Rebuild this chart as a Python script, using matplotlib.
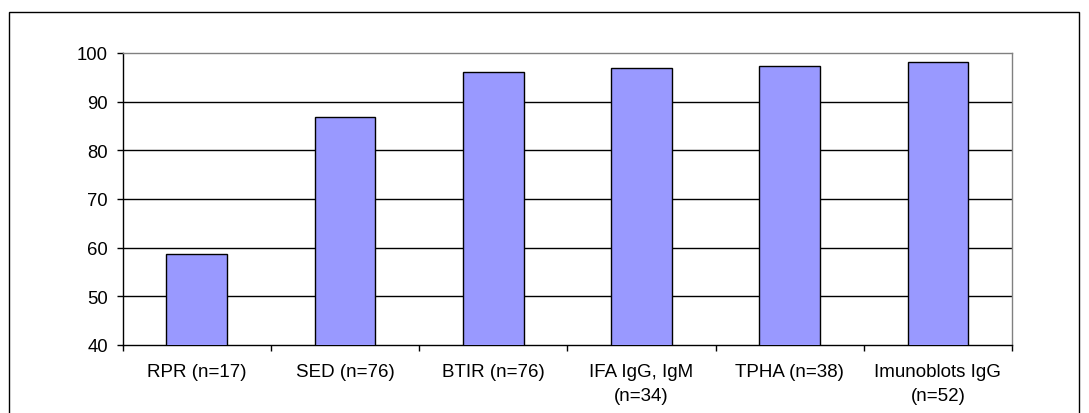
import numpy as np
import matplotlib
matplotlib.use("Agg")
import matplotlib.pyplot as plt
from matplotlib.patches import Rectangle

plt.rcParams['font.family'] = ['Liberation Sans', 'DejaVu Sans']

labels = ['RPR (n=17)', 'SED (n=76)', 'BTIR (n=76)', 'IFA IgG, IgM\n(n=34)',
          'TPHA (n=38)', 'Imunoblots IgG\n(n=52)']
values = [58.8, 86.9, 96.0, 96.9, 97.3, 98.2]
yticks = [40, 50, 60, 70, 80, 90, 100]

W, H = 1089, 414
fig = plt.figure(figsize=(W / 100, H / 100), dpi=100)
# outer chart border (bottom runs off the picture)
fig.patches.append(Rectangle((9 / W, -0.1), (1079 - 9) / W, (H - 13) / H + 0.1,
                             transform=fig.transFigure, fill=False,
                             edgecolor='black', linewidth=1.0))

left, right, top, bottom = 122.7, 1012, 54, 346
ax = fig.add_axes([left / W, 1 - bottom / H, (right - left) / W, (bottom - top) / H])

x = np.arange(len(values))
ax.bar(x, values, width=0.41, color='#9999FF', edgecolor='black', linewidth=1.0,
       zorder=3, bottom=0)
ax.set_xlim(-0.5, len(values) - 0.5)
ax.set_ylim(40, 100)

for y in yticks[1:-1]:
    ax.axhline(y, color='black', linewidth=1.0, zorder=1)

ax.set_yticks(yticks)
ax.set_yticklabels([str(v) for v in yticks], fontsize=13.3)
ax.tick_params(axis='y', direction='out', length=4.5, width=1, pad=6)

ax.set_xticks(x)
ax.set_xticklabels(labels, fontsize=13.5, linespacing=1.55)
ax.tick_params(axis='x', length=0, pad=13)
ax.set_xticks(np.arange(len(values) + 1) - 0.5, minor=True)
ax.tick_params(axis='x', which='minor', direction='out', length=4.5, width=1)

ax.spines['left'].set_color('black')
ax.spines['bottom'].set_color('black')
ax.spines['top'].set_color('#808080')
ax.spines['right'].set_color('#808080')
for s in ax.spines.values():
    s.set_linewidth(1.0)

fig.savefig('out.png', dpi=100)
